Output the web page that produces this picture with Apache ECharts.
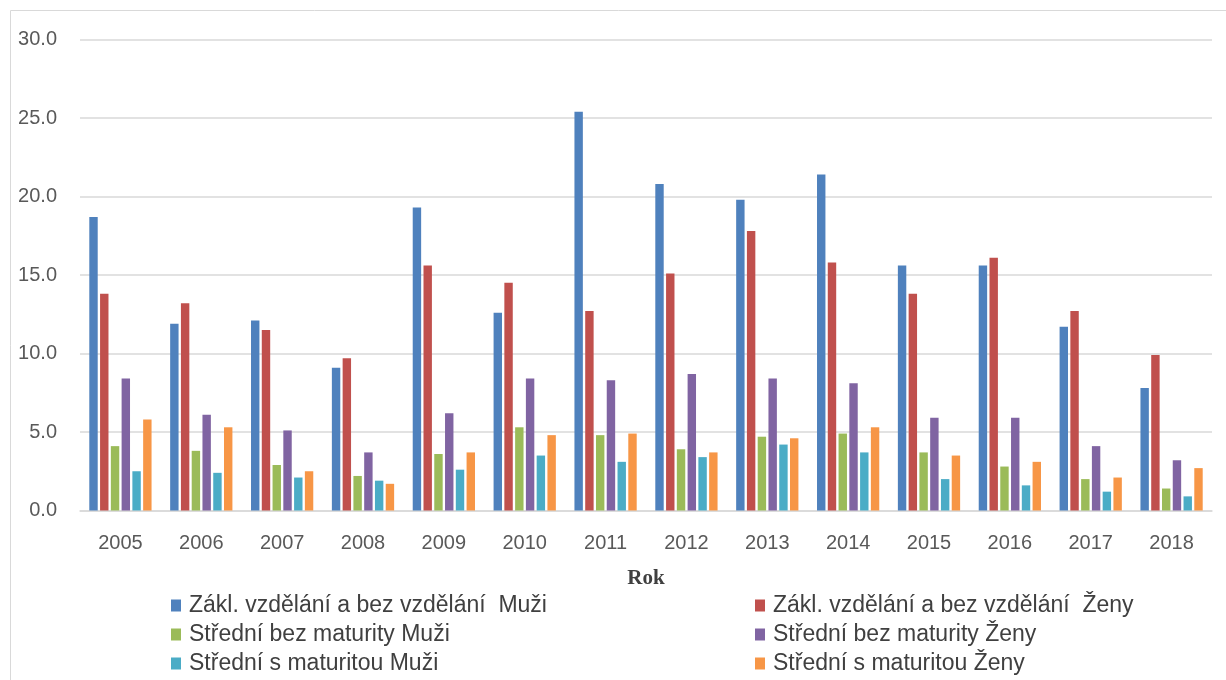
<!DOCTYPE html>
<html>
<head>
<meta charset="utf-8">
<script src="https://cdn.jsdelivr.net/npm/echarts@6/dist/echarts.min.js"></script>
<style>html,body{margin:0;padding:0;background:#fff}#c{width:1226px;height:680px}</style>
</head>
<body>
<div id="c"></div>
<script>
const years = ['2005','2006','2007','2008','2009','2010','2011','2012','2013','2014','2015','2016','2017','2018'];
const seriesNames = [
  'Zákl. vzdělání a bez vzdělání  Muži',
  'Zákl. vzdělání a bez vzdělání  Ženy',
  'Střední bez maturity Muži',
  'Střední bez maturity Ženy',
  'Střední s maturitou Muži',
  'Střední s maturitou Ženy'
];
const zaklMuzi   = [18.7, 11.9, 12.1, 9.1, 19.3, 12.6, 25.4, 20.8, 19.8, 21.4, 15.6, 15.6, 11.7, 7.8];
const zaklZeny   = [13.8, 13.2, 11.5, 9.7, 15.6, 14.5, 12.7, 15.1, 17.8, 15.8, 13.8, 16.1, 12.7, 9.9];
const strBezMuzi = [4.1, 3.8, 2.9, 2.2, 3.6, 5.3, 4.8, 3.9, 4.7, 4.9, 3.7, 2.8, 2.0, 1.4];
const strBezZeny = [8.4, 6.1, 5.1, 3.7, 6.2, 8.4, 8.3, 8.7, 8.4, 8.1, 5.9, 5.9, 4.1, 3.2];
const strSMuzi   = [2.5, 2.4, 2.1, 1.9, 2.6, 3.5, 3.1, 3.4, 4.2, 3.7, 2.0, 1.6, 1.2, 0.9];
const strSZeny   = [5.8, 5.3, 2.5, 1.7, 3.7, 4.8, 4.9, 3.7, 4.6, 5.3, 3.5, 3.1, 2.1, 2.7];
const yTicks = [0, 5, 10, 15, 20, 25, 30];
const colors = ['#4F81BD','#C0504D','#9BBB59','#8064A2','#4BACC6','#F79646'];
const values = [zaklMuzi, zaklZeny, strBezMuzi, strBezZeny, strSMuzi, strSZeny];

const chart = echarts.init(document.getElementById('c'), null, {renderer:'canvas'});
const legendText = {fontFamily:'"Liberation Sans",Arial,sans-serif', fontSize:23, color:'#404040', lineHeight:22, padding:[0,0,0,3]};
chart.setOption({
  animation:false,
  color: colors,
  graphic:[{type:'rect', shape:{x:10.5,y:10.5,width:1240,height:700}, style:{fill:'none', stroke:'#d9d9d9', lineWidth:1}, silent:true}],
  grid:{left:80, right:14, top:39.5, bottom:169.5, containLabel:false},
  legend:[
    {orient:'vertical', left:171, top:594, height:120, padding:0, itemWidth:10, itemHeight:12, itemGap:6, icon:'rect', textStyle:legendText, data:[seriesNames[0], seriesNames[2], seriesNames[4]]},
    {orient:'vertical', left:755, top:594, height:120, padding:0, itemWidth:10, itemHeight:12, itemGap:6, icon:'rect', textStyle:legendText, data:[seriesNames[1], seriesNames[3], seriesNames[5]]}
  ],
  xAxis:{
    type:'category', data:years,
    name:'Rok', nameLocation:'middle', nameGap:58,
    nameTextStyle:{fontFamily:'"Liberation Serif","Times New Roman",serif', fontWeight:'bold', fontSize:21, color:'#404040'},
    axisLine:{lineStyle:{color:'#d9d9d9', width:1.5}},
    axisTick:{show:false},
    axisLabel:{margin:23, fontFamily:'"Liberation Sans",Arial,sans-serif', fontSize:20, color:'#595959'}
  },
  yAxis:{
    type:'value', min:yTicks[0], max:yTicks[yTicks.length-1], interval:5,
    axisLine:{show:false}, axisTick:{show:false},
    splitLine:{lineStyle:{color:'#d9d9d9', width:1.5}},
    axisLabel:{margin:23, fontFamily:'"Liberation Sans",Arial,sans-serif', fontSize:20, color:'#595959', formatter:v=>v.toFixed(1)}
  },
  series: seriesNames.map((n,i)=>({
    name:n, type:'bar', data:values[i],
    barGap:'28%', barCategoryGap:'23%',
    itemStyle:{color:colors[i]}
  }))
});
</script>
</body>
</html>
